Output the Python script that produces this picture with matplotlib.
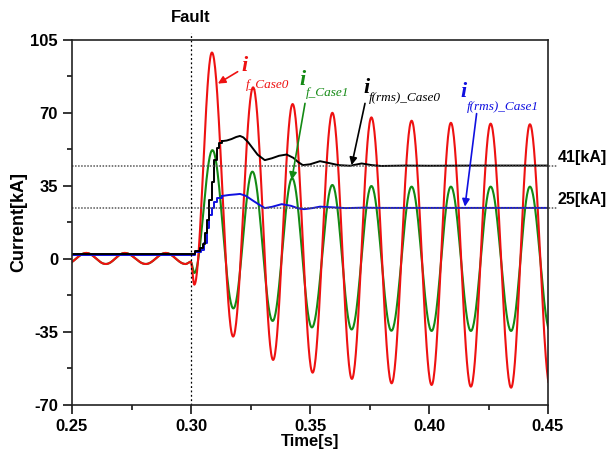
import numpy as np
import matplotlib
matplotlib.use("Agg")
import matplotlib.pyplot as plt
from matplotlib.ticker import MultipleLocator, FormatStrFormatter

# extrema of the instantaneous fault currents (time [s], current [kA])
red_t = [0.2476, 0.2560, 0.2642, 0.2722, 0.2810, 0.2894, 0.2977, 0.2999, 0.3014,
         0.3088, 0.3177, 0.3261, 0.3345, 0.3427, 0.3511, 0.3594, 0.3676, 0.3758,
         0.3843, 0.3927, 0.4011, 0.4092, 0.4176, 0.4259, 0.4345, 0.4424, 0.4510]
red_v = [-2.4, 2.9, -2.4, 2.9, -2.4, 2.9, -2.4, -1.3, -12.3,
         99.0, -37.2, 82.3, -48.4, 74.3, -54.5, 70.1, -57.5, 67.9,
         -59.6, 66.3, -60.4, 65.3, -61.2, 64.9, -61.7, 64.6, -62.0]

green_t = [0.2476, 0.2560, 0.2642, 0.2722, 0.2810, 0.2894, 0.2977, 0.2999, 0.3014,
           0.3090, 0.3178, 0.3258, 0.3343, 0.3425, 0.3508, 0.3594, 0.3675, 0.3758,
           0.3842, 0.3927, 0.4011, 0.4092, 0.4176, 0.4259, 0.4345, 0.4424, 0.4510]
green_v = [-2.4, 2.9, -2.4, 2.9, -2.4, 2.9, -2.4, -1.3, -6.7,
           52.2, -23.7, 41.9, -29.7, 38.7, -32.8, 35.5, -33.8, 35.0,
           -34.4, 34.7, -34.5, 34.7, -34.5, 34.7, -34.5, 34.7, -34.8]

# rms currents: staircase rise, then a smoother trace
rms0_t = [0.2500, 0.3017, 0.3038, 0.3049, 0.3059, 0.3066, 0.3077, 0.3087, 0.3098,
          0.3108, 0.3118, 0.3130, 0.3150, 0.3170, 0.3190, 0.3206, 0.3220, 0.3240,
          0.3260, 0.3280, 0.3310, 0.3340, 0.3370, 0.3402, 0.3430, 0.3450, 0.3470,
          0.3500, 0.3542, 0.3580, 0.3620, 0.3668, 0.3717, 0.3760, 0.3800, 0.3900,
          0.4000, 0.4200, 0.4500]
rms0_v = [2.2, 3.6, 5.2, 7.3, 12.4, 18.8, 28.3, 37.0, 47.4,
          53.0, 55.8, 56.5, 56.8, 57.5, 58.5, 59.0, 58.3, 56.0,
          53.0, 50.0, 47.4, 48.3, 49.5, 50.1, 48.5, 46.5, 45.0,
          45.4, 46.9, 46.0, 45.0, 44.7, 45.8, 45.0, 44.6, 44.8,
          44.7, 44.8, 44.8]
rms0_steps = 12

rms1_t = [0.2500, 0.3017, 0.3041, 0.3056, 0.3066, 0.3077, 0.3087, 0.3098, 0.3111,
          0.3130, 0.3160, 0.3190, 0.3206, 0.3230, 0.3260, 0.3290, 0.3310, 0.3340,
          0.3381, 0.3420, 0.3450, 0.3475, 0.3510, 0.3542, 0.3590, 0.3650, 0.3720,
          0.3800, 0.4500]
rms1_v = [1.8, 3.2, 4.4, 7.6, 14.8, 21.1, 24.3, 27.5, 29.1,
          30.2, 30.7, 31.0, 31.2, 30.3, 28.0, 25.8, 24.4, 25.0,
          26.3, 25.5, 24.3, 23.9, 24.4, 25.1, 24.8, 24.4, 24.6,
          24.5, 24.5]
rms1_steps = 10

level_vals = [44.7, 24.4]
level_labels = ["41[kA]", "25[kA]"]
fault_time = 0.30


def wave(ts, vs, n=40):
    # half-cosine segments between consecutive extrema
    tt, yy = [], []
    for k in range(len(ts) - 1):
        f = np.linspace(0, 1, n, endpoint=False)
        tt.append(ts[k] + (ts[k + 1] - ts[k]) * f)
        yy.append(vs[k] + (vs[k + 1] - vs[k]) * (1 - np.cos(np.pi * f)) / 2)
    tt.append([ts[-1]])
    yy.append([vs[-1]])
    return np.concatenate(tt), np.concatenate(yy)


def rms_trace(ax, ts, vs, nsteps, col):
    ax.plot(ts[:nsteps], vs[:nsteps], color=col, lw=1.4, drawstyle='steps-post')
    ax.plot(ts[nsteps - 1:], vs[nsteps - 1:], color=col, lw=1.4)


plt.rcParams['font.family'] = ['Liberation Sans', 'DejaVu Sans']
plt.rcParams['font.weight'] = 'bold'
plt.rcParams['axes.unicode_minus'] = False

fig = plt.figure(figsize=(6.15, 4.55), dpi=100)
ax = fig.add_axes([72 / 615, 1 - 405 / 455, 476 / 615, 365 / 455])

RED = '#ee1111'
GREEN = '#148a14'
BLUE = '#1010e0'

t, y = wave(green_t, green_v)
ax.plot(t, y, color=GREEN, lw=1.5)
t, y = wave(red_t, red_v)
ax.plot(t, y, color=RED, lw=1.5)
rms_trace(ax, rms1_t, rms1_v, rms1_steps, BLUE)
rms_trace(ax, rms0_t, rms0_v, rms0_steps, 'black')

# reference levels and fault instant
for val, lab in zip(level_vals, level_labels):
    ax.plot([0.25, 0.4538], [val, val], color='#555555', lw=1.1, ls=(0, (1, 1)),
            clip_on=False)
    ax.text(0.4540, val + 4.1, lab, ha='left', va='center', fontsize=11.5,
            fontweight='bold')
ax.plot([fault_time, fault_time], [-70, 108.3], color='black', lw=0.9,
        ls=(0, (1.5, 2)), clip_on=False)
ax.text(fault_time - 0.0002, 115.7, 'Fault', ha='center', va='center',
        fontsize=12, fontweight='bold')

ax.set_xlim(0.25, 0.45)
ax.set_ylim(-70, 105)
ax.xaxis.set_major_locator(MultipleLocator(0.05))
ax.xaxis.set_minor_locator(MultipleLocator(0.025))
ax.yaxis.set_major_locator(MultipleLocator(35))
ax.yaxis.set_minor_locator(MultipleLocator(17.5))
ax.xaxis.set_major_formatter(FormatStrFormatter('%.2f'))
ax.tick_params(which='both', direction='out', top=False, right=False,
               width=1.1, labelsize=12)
ax.tick_params(which='major', length=6.5)
ax.tick_params(which='minor', length=3.5)
for lab in ax.get_xticklabels() + ax.get_yticklabels():
    lab.set_fontweight('bold')
for sp in ax.spines.values():
    sp.set_linewidth(1.2)
    sp.set_color('#222222')

ax.set_xlabel('Time[s]', fontsize=12, fontweight='bold', labelpad=0)
ax.set_ylabel('Current[kA]', fontsize=13, fontweight='bold', labelpad=2)

# curve annotations
serif = ['Liberation Serif', 'DejaVu Serif']
notes = [
    # i pos, subscript pos, arrow tail, arrow head, text, colour
    ((0.3223, 92.3), (0.3231, 83.6), (0.3196, 89.8), (0.3113, 84.1), 'f_Case0', RED),
    ((0.3468, 85.6), (0.3483, 79.4), (0.3479, 74.6), (0.3423, 37.9), 'f_Case1', GREEN),
    ((0.3739, 82.2), (0.3748, 77.0), (0.3731, 74.6), (0.3675, 45.0), 'f(rms)_Case0', 'black'),
    ((0.4147, 79.9), (0.4158, 72.8), (0.4200, 69.7), (0.4151, 25.1), 'f(rms)_Case1', BLUE),
]
for ipos, spos, tail, head, sub, col in notes:
    ax.text(ipos[0], ipos[1], 'i', color=col, family=serif, style='italic',
            fontweight='bold', fontsize=16, ha='center', va='center')
    ax.text(spos[0], spos[1], sub, color=col, family=serif, style='italic',
            fontweight='normal', fontsize=9.5, ha='left', va='center')
    ax.annotate('', xy=head, xytext=tail,
                arrowprops=dict(arrowstyle='-|>', color=col, lw=1.2,
                                mutation_scale=11, shrinkA=0, shrinkB=0))

fig.savefig('out.png', dpi=100)
